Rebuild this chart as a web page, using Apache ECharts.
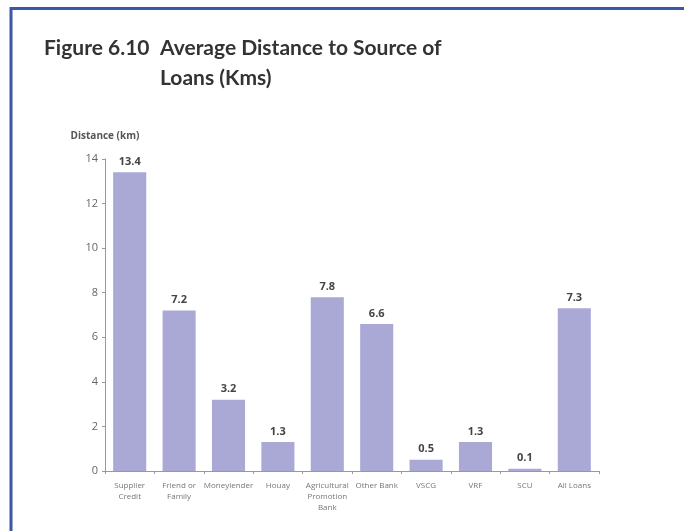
<!DOCTYPE html>
<html>
<head>
<meta charset="utf-8">
<script src="https://cdn.jsdelivr.net/npm/echarts@6/dist/echarts.min.js"></script>
<style>
html,body{margin:0;padding:0;background:#fff;}
#chart{width:684px;height:531px;}
</style>
</head>
<body>
<div id="chart"></div>
<script>
var categories = ["Supplier\nCredit", "Friend or\nFamily", "Moneylender", "Houay",
    "Agricultural\nPromotion\nBank", "Other Bank", "VSCG", "VRF", "SCU", "All Loans"];
var distances = [13.4, 7.2, 3.2, 1.3, 7.8, 6.6, 0.5, 1.3, 0.1, 7.3];
var yTicks = [0, 14, 2]; // min, max, interval
var titleLines = ["Figure 6.10", "Average Distance to Source of", "Loans (Kms)"];

var chart = echarts.init(document.getElementById("chart"));
var titleFont = "bold 21px Lato";
var option = {
    backgroundColor: "#fff",
    animation: false,
    graphic: [
        {   // blue frame, left and top
            type: "polyline",
            shape: { points: [[11, 531], [11, 8.5], [684, 8.5]] },
            style: { stroke: "#3b57a9", lineWidth: 3, fill: null }
        },
        { type: "text", x: 44, y: 48, style: { text: titleLines[0], font: titleFont, fill: "#333", verticalAlign: "middle" } },
        { type: "text", x: 160, y: 48, style: { text: titleLines[1], font: titleFont, fill: "#333", verticalAlign: "middle" } },
        { type: "text", x: 160, y: 78, style: { text: titleLines[2], font: titleFont, fill: "#333", verticalAlign: "middle" } }
    ],
    grid: { left: 105, right: 85, top: 159, bottom: 60 },
    xAxis: {
        type: "category",
        data: categories,
        axisLine: { lineStyle: { color: "#999" } },
        axisTick: { show: true, length: 3, lineStyle: { color: "#999" } },
        axisLabel: { interval: 0, color: "#777", fontSize: 8, lineHeight: 11,
                     fontFamily: "Open Sans", margin: 9 }
    },
    yAxis: {
        type: "value",
        min: yTicks[0], max: yTicks[1], interval: yTicks[2],
        name: "Distance (km)",
        nameLocation: "end",
        nameGap: 18,
        nameTextStyle: { color: "#555", fontSize: 10, fontWeight: "bold", fontFamily: "Open Sans",
                         align: "center" },
        splitLine: { show: false },
        axisLine: { show: true, lineStyle: { color: "#999" } },
        axisTick: { show: true, length: 3, lineStyle: { color: "#999" } },
        axisLabel: { color: "#666", fontSize: 11, fontFamily: "Open Sans", margin: 7 }
    },
    series: [{
        type: "bar",
        data: distances,
        barCategoryGap: "33%",
        itemStyle: { color: "#aaa9d6" },
        label: { show: true, position: "top", distance: 5, color: "#444",
                 fontWeight: "bold", fontSize: 11, fontFamily: "Open Sans" }
    }]
};
chart.setOption(option);
</script>
</body>
</html>
